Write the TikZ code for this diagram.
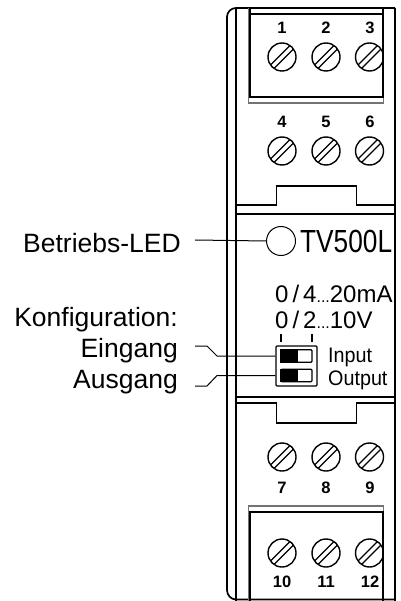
\documentclass[tikz,border=0pt]{standalone}
\usepackage{fontspec}
\setmainfont{Liberation Sans}
\newfontfamily\cadfont[FakeStretch=0.82]{Liberation Sans}
\newfontfamily\dipfont[FakeStretch=0.94]{Liberation Sans}
\usetikzlibrary{positioning}

\tikzset{
    screw/.style={circle,draw,line width=1.4pt,minimum size=28pt,inner sep=0pt,
        path picture={
            \draw [line width=1.2pt] ([shift={(-12pt,-8.5pt)}]path picture bounding box.center) -- ++(21pt,21pt);
            \draw [line width=1.2pt] ([shift={(-8.5pt,-12pt)}]path picture bounding box.center) -- ++(21pt,21pt);
        }},
    pinlabel/.style={font=\fontsize{16.5}{16.5}\selectfont\bfseries,inner sep=0pt},
    typetext/.style={font=\cadfont\fontsize{32}{32}\selectfont,inner sep=0pt,anchor=base west},
    rangetext/.style={font=\fontsize{24}{24}\selectfont,inner sep=0pt,anchor=base west},
    dipboxtext/.style={font=\dipfont\fontsize{21}{21}\selectfont,inner sep=0pt,anchor=base west},
    sidelabel/.style={font=\fontsize{26.5}{26.5}\selectfont,inner sep=0pt,anchor=base east},
    dipbox/.style={draw,line width=1.4pt,inner sep=0pt,rounded corners=1pt},
    leader/.style={draw=black,line width=1pt},
    housing/.style={draw=black,line width=1.7pt},
    heavy/.style={draw=black,line width=2.2pt},
    lighter/.style={draw=black!55,line width=1.3pt}
}
\newcommand{\rangedots}{{\fontsize{16}{16}\selectfont...}}

\begin{document}
\begin{tikzpicture}[x=1pt,y=-1pt]
\useasboundingbox (0,0) rectangle (400,601);

% housing
\draw [housing] (236,601) -- (236,8);
\draw [housing] (395,601) -- (395,8);
\draw [housing] (227,17) to[out=90,in=180] (236,8) -- (395,8);
\draw [housing] (227,17) -- (227,590) to[out=-90,in=180] (236,599.5) -- (395,599.5);
\draw [housing] (236,214) -- (395,214);
\draw [housing] (236,397) -- (395,397);

% notches
\draw [housing] (236,205) -| (276.5,186) -| (356.5,205) -- (395,205);
\draw [housing] (236,403) -| (276.5,423) -| (356.5,403) -- (395,403);

% top block
\draw [lighter] (248.5,8) -- (248.5,103) -- (383.5,103) -- (383.5,8);
\draw [heavy] (250,14) -- (383,14);
\draw [heavy] (250,8) -- (250,97) -- (383,97) -- (383,8);

% bottom block
\draw [lighter] (248.5,601) -- (248.5,506) -- (383.5,506) -- (383.5,601);
\draw [heavy] (250,601) -- (250,512) -- (383,512) -- (383,601);

% screws
\begin{scope}
    \clip (240,0) rectangle (383,601);
    \foreach \n/\x/\y in {1/282/57,2/326/57,3/369.5/57,10/282/553,11/326/553,12/369.5/553}
        \node [screw] (s\n) at (\x,\y) {};
\end{scope}
\foreach \n/\x/\y in {4/282/151,5/326/151,6/369.5/151,7/282/457,8/326/457,9/369.5/457}
    \node [screw] (s\n) at (\x,\y) {};

% pin numbers
\foreach \n/\x/\y in {1/282/27.5,2/326/27.5,3/370/27.5,4/282/121.5,5/326/121.5,6/370/121.5,
                      7/282/488,8/326/488,9/370/488,10/282/582,11/326/582,12/370/582}
    \node [pinlabel] (p\n) at (\x,\y) {\n};

% led
\node [circle,draw,line width=1pt,minimum size=29pt,inner sep=0pt] (led) at (281,241) {};
\node [typetext] (type) at (300,252) {TV500L};
\node [rangetext] (range1) at (275,302) {0\hspace{4pt}/\hspace{4pt}4\rangedots 20mA};
\node [rangetext] (range2) at (275,328) {0\hspace{4pt}/\hspace{4pt}2\rangedots 10V};

% switch
\node [dipbox,minimum width=41pt,minimum height=40pt] (dip) at (296.5,366) {};
\node [dipbox,minimum width=31pt,minimum height=12.5pt] (sw1) at (296.5,356) {};
\node [dipbox,minimum width=31pt,minimum height=12.5pt] (sw2) at (296.5,375.5) {};
\fill (sw1.north west) rectangle ([xshift=1.5pt]sw1.south);
\fill (sw2.north west) rectangle ([xshift=1.5pt]sw2.south);
\draw [line width=2.6pt] (281,334) -- (281,342);
\draw [line width=2.6pt] (312,334) -- (312,342);
\node [dipboxtext] (input) at (328,362) {Input};
\node [dipboxtext] (output) at (328,385) {Output};

% labels left
\node [sidelabel] (betrieb) at (181,252) {Betriebs-LED};
\node [sidelabel] (konfig) at (178,326) {Konfiguration:};
\node [sidelabel] (ein) at (178,357) {Eingang};
\node [sidelabel] (aus) at (178,388) {Ausgang};
\coordinate (b0) at (195,240);
\coordinate (e0) at (195,346);
\coordinate (a0) at (195,386);
\draw [leader] (b0) -- (led.west);
\draw [leader] (e0) -- (207,346) -- (217,356) -- (dip.west |- sw1.west);
\draw [leader] (a0) -- (207,386) -- (217,375.5) -- (dip.west |- sw2.west);
\end{tikzpicture}
\end{document}
